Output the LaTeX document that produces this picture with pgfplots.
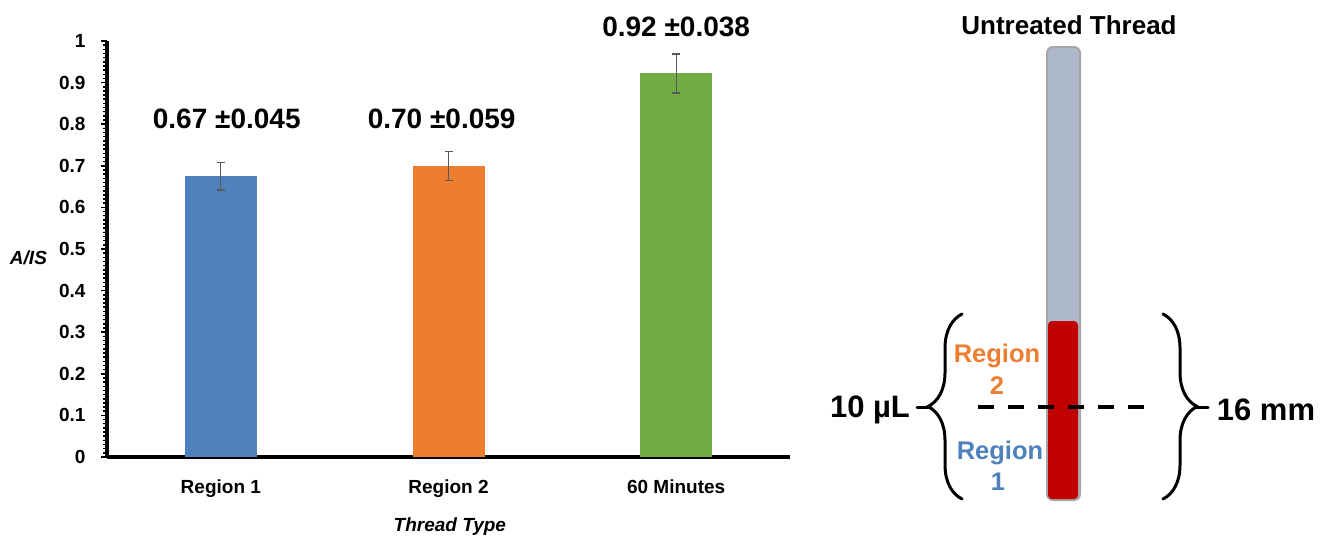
\documentclass[border=0pt]{standalone}
\usepackage{fontspec}
\setmainfont{Liberation Sans}
\usepackage{pgfplots}
\pgfplotsset{compat=1.18}
\usetikzlibrary{decorations.pathreplacing}
\definecolor{cblue}{HTML}{4F81BD}
\definecolor{corange}{HTML}{ED7D31}
\definecolor{cgreen}{HTML}{70AD47}
\definecolor{cthread}{HTML}{ADB9CA}
\definecolor{cborder}{HTML}{A6A6A6}
\definecolor{cred}{HTML}{C00000}
\definecolor{cerr}{HTML}{595959}
\begin{document}
\begin{tikzpicture}
\useasboundingbox (0,0) rectangle (1327pt,538pt);
% ---------- bar chart ----------
\begin{axis}[
  at={(107pt,81pt)}, anchor=south west,
  scale only axis, width=683pt, height=416pt,
  xmin=-0.5, xmax=2.5, ymin=0, ymax=1,
  clip=false,
  ybar, bar width=72pt, bar shift=0pt,
  axis x line*=bottom, axis y line*=left,
  axis line style={-, line width=3.5pt, black},
  xtick={0,1,2},
  xticklabels={Region 1, Region 2, 60 Minutes},
  x tick style={draw=none},
  ytick={0,0.1,...,1.01},
  minor y tick num=9,
  tick align=outside,
  major tick length=6pt, minor tick length=3.5pt,
  y tick style={black, line width=1.5pt},
  /pgf/number format/assume math mode=true,
  /pgf/number format/fixed,
  ticklabel style={font=\bfseries\fontsize{19}{22}\selectfont},
  yticklabel style={xshift=-12pt},
  xticklabel style={yshift=-13pt},
  xlabel={Thread Type},
  xlabel style={font=\bfseries\itshape\fontsize{19}{22}\selectfont, at={(axis description cs:0.502,-0.168)}, anchor=center},
  ylabel={A/IS},
  ylabel style={font=\bfseries\itshape\fontsize{19}{22}\selectfont, rotate=-90, at={(axis description cs:-0.115,0.478)}, anchor=center},
  error bars/error bar style={line width=1.3pt, cerr},
  error bars/error mark options={rotate=90, mark size=4pt, line width=1.3pt, cerr},
]
\addplot[fill=cblue, draw=none, error bars/.cd, y dir=both, y explicit]
  coordinates {(0,0.675) +- (0,0.033)};
\addplot[fill=corange, draw=none, error bars/.cd, y dir=both, y explicit]
  coordinates {(1,0.700) +- (0,0.035)};
\addplot[fill=cgreen, draw=none, error bars/.cd, y dir=both, y explicit]
  coordinates {(2,0.922) +- (0,0.047)};
\node[font=\bfseries\fontsize{28}{32}\selectfont] at (axis cs:0.026,0.8125) {0.67 ±0.045};
\node[font=\bfseries\fontsize{28}{32}\selectfont] at (axis cs:0.97,0.8125) {0.70 ±0.059};
\node[font=\bfseries\fontsize{28}{32}\selectfont] at (axis cs:2.0,1.034) {0.92 ±0.038};
\end{axis}
% ---------- thread diagram ----------
\begin{axis}[
  at={(0pt,0pt)}, anchor=south west,
  scale only axis, width=1327pt, height=538pt,
  xmin=0, xmax=1327, ymin=0, ymax=538, y dir=reverse,
  hide axis, clip=false,
]
\addplot[fill=cthread, draw=cborder, line width=2pt, rounded corners=6pt]
  coordinates {(1047,47) (1080,47) (1080,500) (1047,500)} -- cycle;
\addplot[fill=cred, draw=none, rounded corners=4pt]
  coordinates {(1048,321) (1078,321) (1078,499) (1048,499)} -- cycle;
\addplot[black, line width=4.5pt, dash pattern=on 16pt off 14pt]
  coordinates {(978,407) (1155,407)};
\addplot[black, line width=3pt, line cap=round, decorate, decoration={brace, amplitude=34pt, aspect=0.5}]
  coordinates {(962,499) (962,314)};
\addplot[black, line width=3pt, line cap=round] coordinates {(917,407) (929,407)};
\addplot[black, line width=3pt, line cap=round, decorate, decoration={brace, amplitude=34pt, aspect=0.5}]
  coordinates {(1163,314) (1163,499)};
\addplot[black, line width=3pt, line cap=round] coordinates {(1196,407) (1208,407)};
\node[font=\bfseries\fontsize{26}{30}\selectfont] at (axis cs:1069,25) {Untreated Thread};
\node[font=\bfseries\fontsize{31}{36}\selectfont] at (axis cs:870,410) {10 µL};
\node[font=\bfseries\fontsize{31}{36}\selectfont] at (axis cs:1266,410) {16 mm};
\node[font=\bfseries\fontsize{25.5}{30}\selectfont, text=corange, anchor=base] at (axis cs:997,362) {Region};
\node[font=\bfseries\fontsize{25.5}{30}\selectfont, text=corange, anchor=base] at (axis cs:997,394) {2};
\node[font=\bfseries\fontsize{25.5}{30}\selectfont, text=cblue, anchor=base] at (axis cs:1000,459) {Region};
\node[font=\bfseries\fontsize{25.5}{30}\selectfont, text=cblue, anchor=base] at (axis cs:998,490) {1};
\end{axis}
\end{tikzpicture}
\end{document}
